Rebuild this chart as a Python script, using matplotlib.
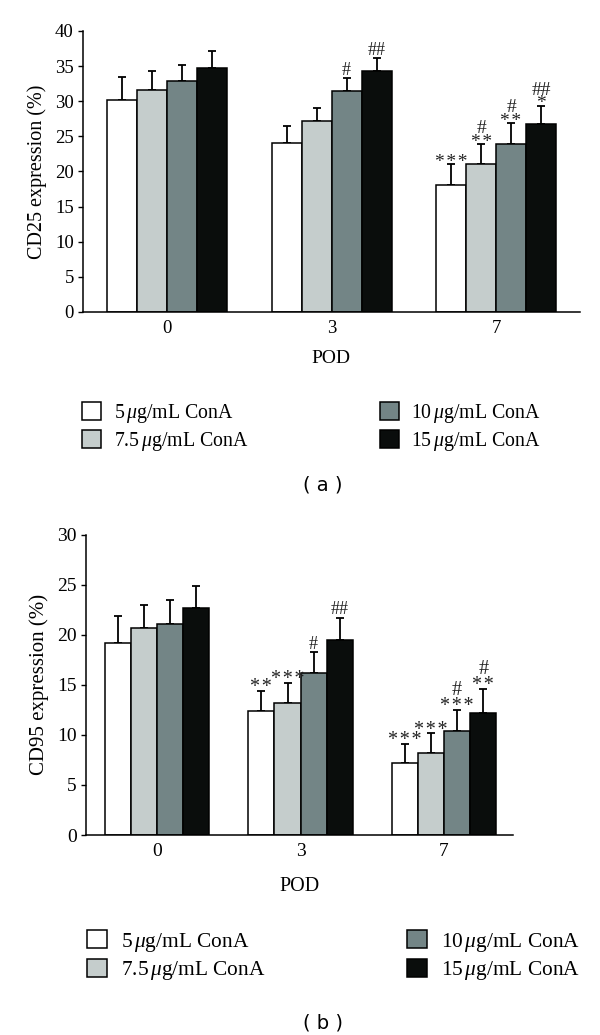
import numpy as np
import matplotlib
matplotlib.use('Agg')
from matplotlib import pyplot as plt

plt.rcParams['font.family'] = 'Liberation Serif'
plt.rcParams['mathtext.fontset'] = 'custom'
plt.rcParams['mathtext.it'] = 'Liberation Serif:italic'
plt.rcParams['mathtext.rm'] = 'Liberation Serif'

pod = ['0', '3', '7']
conc = [r'5$\,\mu$g/mL ConA', r'7.5$\,\mu$g/mL ConA', r'10$\,\mu$g/mL ConA', r'15$\,\mu$g/mL ConA']
colors = ['#ffffff', '#c5cdcc', '#738586', '#0a0d0c']

# CD25 (%) - rows are concentrations, columns are POD 0,3,7
cd25 = np.array([[30.2, 24.1, 18.0],
                 [31.6, 27.2, 21.0],
                 [32.9, 31.4, 23.85],
                 [34.75, 34.3, 26.8]])
cd25_err = np.array([[3.3, 2.4, 3.0],
                     [2.7, 1.9, 2.9],
                     [2.3, 1.9, 3.05],
                     [2.45, 1.9, 2.55]])
cd25_marks = [[[], [], ['***']],
              [[], [], ['**', '#']],
              [[], ['#'], ['**', '#']],
              [[], ['##'], ['*', '##']]]

# CD95 (%)
cd95 = np.array([[19.2, 12.35, 7.2],
                 [20.7, 13.15, 8.2],
                 [21.1, 16.2, 10.35],
                 [22.7, 19.5, 12.2]])
cd95_err = np.array([[2.7, 2.05, 1.9],
                     [2.3, 2.05, 1.95],
                     [2.4, 2.05, 2.15],
                     [2.2, 2.2, 2.4]])
cd95_marks = [[[], ['**'], ['***']],
              [[], ['***'], ['***']],
              [[], ['#'], ['***', '#']],
              [[], ['##'], ['**', '#']]]


def panel(fig, rect, vals, errs, marks, ylabel, tag, ymax, xlim, fs, lfs, leg_xy,
          colsp, tag_y, xpad, mpos, sfs, lsp):
    ax = fig.add_axes(rect)
    x = np.arange(len(pod))
    w = 0.182
    hfs = 13
    for i in range(4):
        xi = x + (i - 1.5) * w
        ax.bar(xi, vals[i], w, color=colors[i], edgecolor='black', linewidth=1.1,
               label=conc[i], zorder=2)
        ax.errorbar(xi, vals[i], yerr=[np.zeros(3), errs[i]], fmt='none',
                    ecolor='black', elinewidth=1.3, capsize=2.6, capthick=1.3, zorder=1)
        for j in range(3):
            m = marks[i][j]
            if not m:
                continue
            star = '*' in m[0]
            lines = ['\u200a'.join(s) if '*' in s else s for s in m]
            if star:
                mfs = sfs
                off = mpos[0] - 0.39 * mfs
            else:
                mfs = hfs
                off = mpos[1] - 0.34 * mfs
            ax.annotate('\n'.join(lines[::-1]), (xi[j], vals[i][j] + errs[i][j]),
                        xytext=(0, off), textcoords='offset points', ha='center',
                        va='baseline', multialignment='center', linespacing=lsp,
                        fontsize=mfs, color='#222222',
                        family=['Liberation Serif', 'DejaVu Serif'])
    ax.set_ylim(0, ymax)
    ax.set_xlim(*xlim)
    ax.set_yticks(np.arange(0, ymax + 1, 5))
    ax.set_xticks(x)
    ax.set_xticklabels(pod)
    ax.tick_params(axis='x', length=0, pad=6, labelsize=fs)
    ax.tick_params(axis='y', length=3.5, width=1, pad=3, labelsize=fs)
    for s in ['top', 'right']:
        ax.spines[s].set_visible(False)
    for s in ['left', 'bottom']:
        ax.spines[s].set_linewidth(1.1)
    ax.set_xlabel('POD', fontsize=fs + 0.5, labelpad=xpad)
    ax.set_ylabel(ylabel, fontsize=fs + 1, labelpad=6)
    fig.legend(*ax.get_legend_handles_labels(), loc='upper left', bbox_to_anchor=leg_xy,
               ncol=2, frameon=False, fontsize=lfs, borderpad=0, borderaxespad=0,
               handlelength=0.95, handleheight=0.95, handletextpad=0.65,
               labelspacing=0.25, columnspacing=colsp)
    fig.text(0.538, tag_y, '( %s )' % tag, family='DejaVu Sans', fontsize=14,
             ha='center', va='center')
    return ax


fig = plt.figure(figsize=(6, 10.35), dpi=100)
panel(fig, [0.138, 0.6986, 0.828, 0.2715], cd25, cd25_err, cd25_marks,
      'CD25 expression (%)', 'a', 40, (-0.514, 2.508), 13.5, 14.3, (0.137, 0.6117), 6.6,
      1 - 485 / 1035, 9, (3.6, 6.5), 14, 0.72)
panel(fig, [0.1433, 0.1932, 0.7117, 0.2901], cd95, cd95_err, cd95_marks,
      'CD95 expression (%)', 'b', 30, (-0.495, 2.48), 14, 15.4, (0.145, 0.1015), 6.6,
      1 - 1023 / 1035, 12, (4.8, 7), 14.5, 0.78)
fig.savefig('out.png', dpi=100)
